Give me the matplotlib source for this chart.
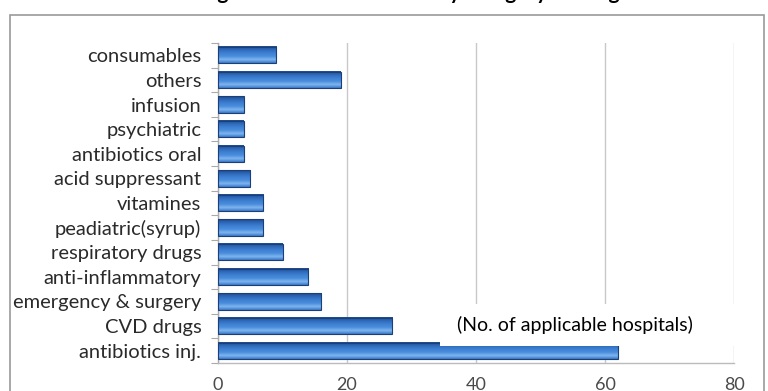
"""
Horizontal bar chart: number of hospitals reporting drug shortages, by category
Excel-style gradient bars, framed chart area
"""
import numpy as np
import matplotlib.pyplot as plt
from matplotlib.patches import Rectangle
from matplotlib.colors import LinearSegmentedColormap

categories = ['consumables', 'others', 'infusion', 'psychiatric', 'antibiotics oral',
              'acid suppressant', 'vitamines', 'peadiatric(syrup)', 'respiratory drugs',
              'anti-inflammatory', 'emergency & surgery', 'CVD drugs', 'antibiotics inj.']
hospitals = [9, 19, 4, 4, 4, 5, 7, 7, 10, 14, 16, 27, 62]
x_ticks = [0, 20, 40, 60, 80]

title = 'Drugs that ran out of stock by category of drugs'
note = '(No. of applicable hospitals)'

plt.rcParams['font.family'] = ['Lato', 'DejaVu Sans']

fig = plt.figure(figsize=(7.68, 3.91), dpi=100)
ax = fig.add_axes([0.2839, 0.0716, 0.6719, 0.8184])

# chart-area frame
fig.patches.append(Rectangle((10 / 768, -0.05), 754 / 768, 1.05 - 15 / 391,
                             transform=fig.transFigure, fill=False,
                             edgecolor='#9a9a9a', linewidth=1.2))

# title sits mostly above the canvas, only the descenders show
fig.text(0.528, 1.0 + 1 / 391, title, ha='center', va='baseline',
         fontsize=15, fontweight='bold', color='black')

# vertical shading for the bars: light top edge, dark bottom edge
bar_cmap = LinearSegmentedColormap.from_list(
    'bar', ['#1d4a8e', '#2f68b8', '#3d7fd2', '#4a8ddc', '#7fb6f0', '#3a78c8'])
grad = np.linspace(0, 1, 64).reshape(-1, 1)

ypos = np.arange(len(categories))
bar_h = 0.66
for y, v in zip(ypos, hospitals):
    ax.imshow(grad, cmap=bar_cmap, aspect='auto', origin='upper',
              extent=(0, v, y + bar_h / 2, y - bar_h / 2), zorder=3,
              interpolation='bilinear')
    ax.add_patch(Rectangle((0, y - bar_h / 2), v, bar_h, fill=False,
                           edgecolor='#1c3f78', linewidth=0.8, zorder=4))

ax.set_xlim(0, 80)
ax.set_ylim(len(categories) - 0.5, -0.5)
ax.set_xticks(x_ticks)
ax.set_xticklabels([str(t) for t in x_ticks], fontsize=13, color='#4a4a4a')
ax.tick_params(axis='x', length=0, pad=10)
ax.set_yticks(ypos)
ax.set_yticklabels(categories, fontsize=14.5, color='#2a2a2a')
ax.tick_params(axis='y', length=0, pad=12)
ax.set_yticks(np.arange(-0.5, len(categories), 1), minor=True)
ax.tick_params(axis='y', which='minor', length=5, color='#aaaaaa', width=0.8)

ax.grid(True, axis='x', color='#c8c8c8', linewidth=1.0, zorder=0)
ax.set_axisbelow(True)
ax.spines[['top', 'right']].set_visible(False)
ax.spines['left'].set_color('#aaaaaa')
ax.spines['bottom'].set_color('#bbbbbb')
ax.spines[['left', 'bottom']].set_linewidth(1.0)

# note box over the lower right of the plot
ax.add_patch(Rectangle((0.430, 0.053), 0.572, 0.131, transform=ax.transAxes,
                       facecolor='white', edgecolor='none', zorder=5,
                       clip_on=False))
ax.text(0.692, 0.119, note, transform=ax.transAxes, ha='center', va='center',
        fontsize=14, color='black', zorder=6)

fig.savefig('out.png', dpi=100, facecolor='white')
